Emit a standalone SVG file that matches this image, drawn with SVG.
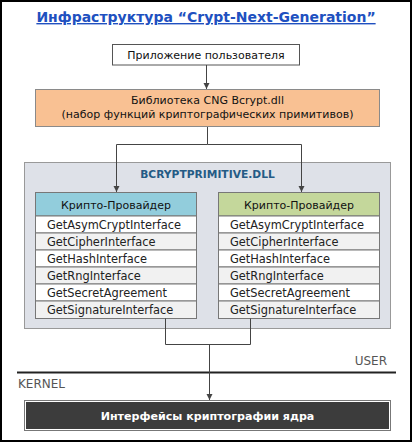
<svg xmlns="http://www.w3.org/2000/svg" width="412" height="442" viewBox="0 0 412 442">
<style>
text{font-family:"DejaVu Sans",Verdana,sans-serif;}
.t{font-size:11px;fill:#111;}
.c{text-anchor:middle;}
.row{font-size:11.4px;fill:#222;}
.cell{stroke:#777;stroke-width:1;}
.w{fill:#fff;}
.g{fill:#f1f1f1;}
.conn{fill:none;stroke:#444;stroke-width:1;}
</style>
<defs>
<marker id="ah" viewBox="0 0 6 8" refX="6" refY="4" markerWidth="6" markerHeight="8" orient="auto" markerUnits="userSpaceOnUse">
<path d="M0,1 L6,4 L0,7 Z" fill="#444"/>
</marker>
</defs>
<rect x="0" y="0" width="412" height="442" fill="#fff"/>
<rect x="1" y="1" width="410" height="440" fill="none" stroke="#000" stroke-width="2"/>

<g id="title">
<text x="206" y="22" class="c" style="font-size:14px;font-weight:bold;fill:#2050c0;text-decoration:underline">Инфраструктура “Crypt-Next-Generation”</text>
</g>

<g id="app">
<rect x="112.5" y="44.5" width="187" height="20.5" fill="#fff" stroke="#555"/>
<text x="206" y="59" class="t c">Приложение пользователя</text>
</g>

<g id="cng">
<rect x="35.5" y="89.5" width="344" height="37" fill="#f9c193" stroke="#8a8a8a"/>
<text x="207.5" y="104" class="t c">Библиотека CNG Bcrypt.dll</text>
<text x="207.5" y="118" class="t c">(набор функций криптографических примитивов)</text>
</g>

<g id="bcryptprimitive">
<rect x="24.5" y="162.5" width="366" height="166" fill="#dee1e8" stroke="#999"/>
<text x="207.5" y="178" class="c" style="font-size:10.7px;font-weight:bold;fill:#245b85">BCRYPTPRIMITIVE.DLL</text>
</g>

<g id="provider1">
<rect x="35.5" y="192.5" width="161" height="23.5" fill="#92cddc" class="cell"/>
<text x="116" y="209" class="t c">Крипто-Провайдер</text>
<rect x="35.5" y="216" width="161" height="17" class="cell w"/>
<rect x="35.5" y="233" width="161" height="17" class="cell g"/>
<rect x="35.5" y="250" width="161" height="17" class="cell w"/>
<rect x="35.5" y="267" width="161" height="17" class="cell g"/>
<rect x="35.5" y="284" width="161" height="17" class="cell w"/>
<rect x="35.5" y="301" width="161" height="17.5" class="cell g"/>
<text x="47" y="229" class="row">GetAsymCryptInterface</text>
<text x="47" y="246" class="row">GetCipherInterface</text>
<text x="47" y="263" class="row">GetHashInterface</text>
<text x="47" y="280" class="row">GetRngInterface</text>
<text x="47" y="297" class="row">GetSecretAgreement</text>
<text x="47" y="314" class="row">GetSignatureInterface</text>
</g>

<g id="provider2">
<rect x="218.5" y="192.5" width="161" height="23.5" fill="#c4d79b" class="cell"/>
<text x="299" y="209" class="t c">Крипто-Провайдер</text>
<rect x="218.5" y="216" width="161" height="17" class="cell w"/>
<rect x="218.5" y="233" width="161" height="17" class="cell g"/>
<rect x="218.5" y="250" width="161" height="17" class="cell w"/>
<rect x="218.5" y="267" width="161" height="17" class="cell g"/>
<rect x="218.5" y="284" width="161" height="17" class="cell w"/>
<rect x="218.5" y="301" width="161" height="17.5" class="cell g"/>
<text x="230" y="229" class="row">GetAsymCryptInterface</text>
<text x="230" y="246" class="row">GetCipherInterface</text>
<text x="230" y="263" class="row">GetHashInterface</text>
<text x="230" y="280" class="row">GetRngInterface</text>
<text x="230" y="297" class="row">GetSecretAgreement</text>
<text x="230" y="314" class="row">GetSignatureInterface</text>
</g>

<g id="boundary">
<line x1="17" y1="372.5" x2="396" y2="372.5" stroke="#222" stroke-width="2"/>
<text x="387" y="365" text-anchor="end" style="font-size:12px;fill:#555">USER</text>
<text x="18" y="388" style="font-size:12px;fill:#555">KERNEL</text>
</g>

<g id="kernel">
<rect x="24.5" y="400.5" width="366" height="30" fill="#fff" stroke="#777"/>
<rect x="26.5" y="402.5" width="362" height="26" fill="#3c3c3c" stroke="#3c3c3c"/>
<text x="207.5" y="420" class="c" style="font-size:11.1px;font-weight:bold;fill:#fff">Интерфейсы криптографии ядра</text>
</g>

<g id="connectors">
<path class="conn" d="M206.5,65 V89" marker-end="url(#ah)"/>
<path class="conn" d="M207.5,127 V144.5 H116.5 V192" marker-end="url(#ah)"/>
<path class="conn" d="M207.5,144.5 H301.5 V192" marker-end="url(#ah)"/>
<path class="conn" d="M165.5,318.5 V344.5 H250.5 V318.5"/>
<path class="conn" d="M209.5,344.5 V400" marker-end="url(#ah)"/>
</g>
</svg>
